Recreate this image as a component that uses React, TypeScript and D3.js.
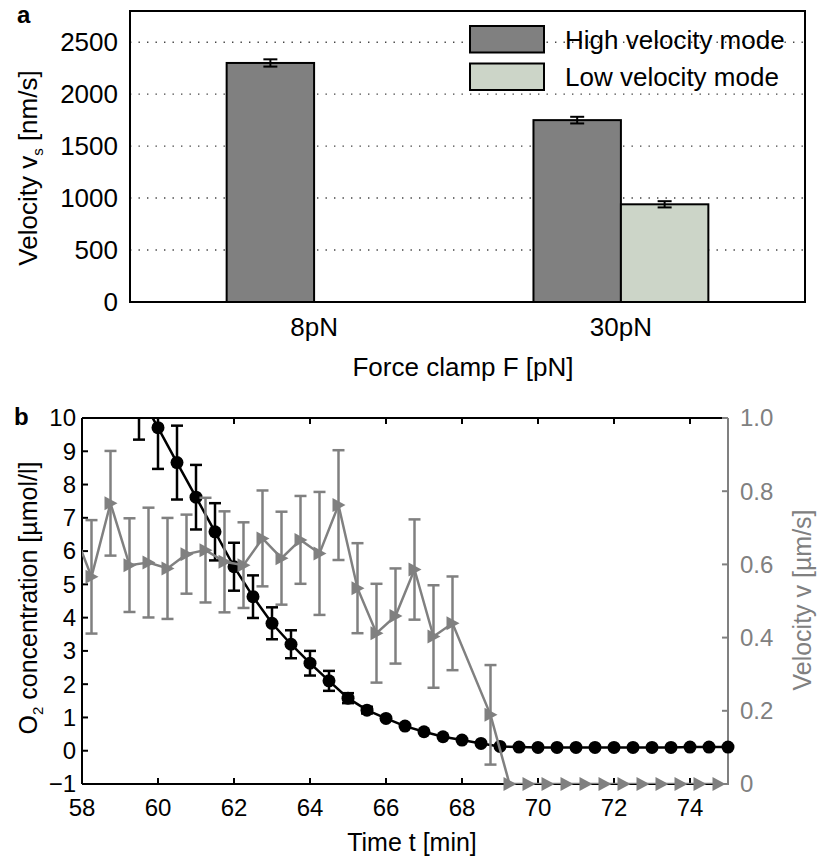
import React from 'react';
import * as d3 from 'd3';

// ---------- Panel a data ----------
const categories = ['8pN', '30pN'];
const highVelocity = [2300, 1750];
const highErr = [35, 32];
const lowVelocity = [0, 940];
const lowErr = [0, 30];
const yTicksA = [0, 500, 1000, 1500, 2000, 2500];
const gridTicksA = [500, 1000, 1500, 2000, 2500];
const legendLabels = ['High velocity mode', 'Low velocity mode'];

// ---------- Panel b data ----------
const o2Time = [59.5, 60, 60.5, 61, 61.5, 62, 62.5, 63, 63.5, 64, 64.5, 65, 65.5, 66, 66.5, 67, 67.5, 68, 68.5, 69, 69.5, 70, 70.5, 71, 71.5, 72, 72.5, 73, 73.5, 74, 74.5, 75];
const o2Value = [10.75, 9.71, 8.66, 7.62, 6.58, 5.53, 4.63, 3.83, 3.2, 2.63, 2.1, 1.58, 1.22, 0.97, 0.74, 0.57, 0.42, 0.32, 0.22, 0.13, 0.11, 0.1, 0.1, 0.1, 0.1, 0.1, 0.1, 0.1, 0.1, 0.11, 0.11, 0.11];
const o2Err = [1.4, 1.24, 1.11, 0.97, 0.86, 0.72, 0.64, 0.48, 0.42, 0.37, 0.3, 0.15, 0.1, 0, 0, 0, 0, 0, 0, 0, 0, 0, 0, 0, 0, 0, 0, 0, 0, 0, 0, 0];

const velTime = [57.75, 58.25, 58.75, 59.25, 59.75, 60.25, 60.75, 61.25, 61.75, 62.25, 62.75, 63.25, 63.75, 64.25, 64.75, 65.25, 65.75, 66.25, 66.75, 67.25, 67.75, 68.75, 69.25, 69.75, 70.25, 70.75, 71.25, 71.75, 72.25, 72.75, 73.25, 73.75, 74.25, 74.75];
const velValue = [0.7, 0.566, 0.767, 0.598, 0.605, 0.589, 0.628, 0.639, 0.607, 0.598, 0.671, 0.617, 0.667, 0.63, 0.762, 0.535, 0.412, 0.459, 0.586, 0.403, 0.439, 0.189, 0, 0, 0, 0, 0, 0, 0, 0, 0, 0, 0, 0];
const velErr = [0.15, 0.155, 0.143, 0.128, 0.15, 0.138, 0.108, 0.143, 0.138, 0.117, 0.131, 0.127, 0.12, 0.168, 0.15, 0.123, 0.135, 0.13, 0.137, 0.14, 0.128, 0.136, 0, 0, 0, 0, 0, 0, 0, 0, 0, 0, 0, 0];

const xTicksB = [58, 60, 62, 64, 66, 68, 70, 72, 74];
const yTicksLeft = [-1, 0, 1, 2, 3, 4, 5, 6, 7, 8, 9, 10];
const yTicksRight = [0, 0.2, 0.4, 0.6, 0.8, 1.0];

const FONT = '"Liberation Sans", Arial, Helvetica, sans-serif';
const GRAY = '#808080';
const LIGHT = '#ccd5c8';

export default function App() {
  // Panel a scales
  const xA = d3.scaleLinear().domain([0.4, 2.6]).range([130, 805]);
  const yA = d3.scaleLinear().domain([0, 2800]).range([302, 11]);
  const barW = xA(1.285) - xA(1);

  // Panel b scales
  const xB = d3.scaleLinear().domain([58, 75]).range([82, 728]);
  const yL = d3.scaleLinear().domain([-1, 10]).range([784, 418]);
  const yR = d3.scaleLinear().domain([0, 1]).range([784, 418]);

  const o2Pts = o2Time.map((t, i) => ({ t, v: o2Value[i], e: o2Err[i] }));
  const velPts = velTime.map((t, i) => ({ t, v: velValue[i], e: velErr[i] }));

  const o2Line = d3.line<any>().x(d => xB(d.t)).y(d => yL(d.v))(o2Pts) || '';
  const velLine = d3.line<any>().x(d => xB(d.t)).y(d => yR(d.v))(velPts) || '';

  const inB = (t: number, y: number, sc: any) => {
    const [d0, d1] = sc.domain();
    return t >= 58 && t <= 75 && y >= d0 && y <= d1;
  };

  const cap = 6;
  const tri = 'M-6,-7 L7,0 L-6,7 Z';

  return (
    <svg width={817} height={859} style={{ position: 'absolute', left: 0, top: 0, background: '#fff' }} fontFamily={FONT}>
      <defs>
        <clipPath id="clipB">
          <rect x={82} y={418} width={728 - 82} height={784 - 418} />
        </clipPath>
      </defs>
      <rect x={0} y={0} width={817} height={859} fill="#fff" />

      {/* ================= Panel a ================= */}
      <text x={17} y={23} fontSize={24} fontWeight="bold">a</text>
      {gridTicksA.map(v => (
        <line key={'g' + v} x1={130} x2={805} y1={yA(v)} y2={yA(v)} stroke="#444" strokeWidth={1.4} strokeDasharray="1.4,7.1" />
      ))}
      {categories.map((c, i) => {
        const cx = xA(i + 1);
        return (
          <g key={c}>
            <rect x={cx - barW} y={yA(highVelocity[i])} width={barW} height={yA(0) - yA(highVelocity[i])} fill={GRAY} stroke="#000" strokeWidth={2} />
            {lowVelocity[i] > 0 && (
              <rect x={cx} y={yA(lowVelocity[i])} width={barW} height={yA(0) - yA(lowVelocity[i])} fill={LIGHT} stroke="#000" strokeWidth={2} />
            )}
            <g stroke="#000" strokeWidth={2}>
              <line x1={cx - barW / 2} x2={cx - barW / 2} y1={yA(highVelocity[i] - highErr[i])} y2={yA(highVelocity[i] + highErr[i])} />
              <line x1={cx - barW / 2 - 7} x2={cx - barW / 2 + 7} y1={yA(highVelocity[i] - highErr[i])} y2={yA(highVelocity[i] - highErr[i])} />
              <line x1={cx - barW / 2 - 7} x2={cx - barW / 2 + 7} y1={yA(highVelocity[i] + highErr[i])} y2={yA(highVelocity[i] + highErr[i])} />
              {lowVelocity[i] > 0 && (
                <>
                  <line x1={cx + barW / 2} x2={cx + barW / 2} y1={yA(lowVelocity[i] - lowErr[i])} y2={yA(lowVelocity[i] + lowErr[i])} />
                  <line x1={cx + barW / 2 - 7} x2={cx + barW / 2 + 7} y1={yA(lowVelocity[i] - lowErr[i])} y2={yA(lowVelocity[i] - lowErr[i])} />
                  <line x1={cx + barW / 2 - 7} x2={cx + barW / 2 + 7} y1={yA(lowVelocity[i] + lowErr[i])} y2={yA(lowVelocity[i] + lowErr[i])} />
                </>
              )}
            </g>
            <text x={cx} y={yA(0) + 25} dy="0.35em" fontSize={26} textAnchor="middle">{c}</text>
          </g>
        );
      })}
      <rect x={130} y={11} width={675} height={291} fill="none" stroke="#000" strokeWidth={2} />
      {yTicksA.map(v => (
        <text key={'ya' + v} x={118} y={yA(v)} dy="0.35em" fontSize={26} textAnchor="end">{v}</text>
      ))}
      {legendLabels.map((l, i) => (
        <g key={l}>
          <rect x={470} y={26 + i * 37.5} width={74} height={26.5} fill={i === 0 ? GRAY : LIGHT} stroke="#000" strokeWidth={2} />
          <text x={565} y={39.5 + i * 37.5} dy="0.35em" fontSize={26}>{l}</text>
        </g>
      ))}
      <text x={463} y={367} dy="0.35em" fontSize={26} textAnchor="middle">Force clamp F [pN]</text>
      <text transform="translate(37,168) rotate(-90)" fontSize={26} textAnchor="middle">
        Velocity v<tspan fontSize={15} dy={6}>s</tspan><tspan dy={-6}> [nm/s]</tspan>
      </text>

      {/* ================= Panel b ================= */}
      <text x={14} y={425} fontSize={24} fontWeight="bold">b</text>

      <line x1={82} x2={728} y1={418} y2={418} stroke="#000" strokeWidth={2} />
      <line x1={82} x2={728} y1={784} y2={784} stroke="#000" strokeWidth={2} />
      <line x1={82} x2={82} y1={418} y2={784} stroke="#000" strokeWidth={2} />
      <line x1={728} x2={728} y1={418} y2={785} stroke={GRAY} strokeWidth={2} />
      {xTicksB.map(t => (
        <g key={'xb' + t}>
          <line x1={xB(t)} x2={xB(t)} y1={784} y2={778} stroke="#000" strokeWidth={2} />
          <line x1={xB(t)} x2={xB(t)} y1={418} y2={424} stroke="#000" strokeWidth={2} />
          <text x={xB(t)} y={808} dy="0.35em" fontSize={24} textAnchor="middle">{t}</text>
        </g>
      ))}
      {yTicksLeft.map(v => (
        <g key={'yl' + v}>
          <line x1={82} x2={88} y1={yL(v)} y2={yL(v)} stroke="#000" strokeWidth={2} />
          <text x={76} y={yL(v)} dy="0.35em" fontSize={24} textAnchor="end">{v < 0 ? '\u2212' + Math.abs(v) : v}</text>
        </g>
      ))}
      {yTicksRight.map(v => (
        <g key={'yr' + v}>
          <line x1={728} x2={722} y1={yR(v)} y2={yR(v)} stroke={GRAY} strokeWidth={2} />
          <text x={740} y={yR(v)} dy="0.35em" fontSize={24} fill={GRAY}>{v === 0 ? '0' : v.toFixed(1)}</text>
        </g>
      ))}
      <text x={412} y={842} dy="0.35em" fontSize={25} textAnchor="middle">Time t [min]</text>
      <text transform="translate(37,598) rotate(-90)" fontSize={25} textAnchor="middle">
        O<tspan fontSize={15} dy={6}>2</tspan><tspan dy={-6}> concentration [µmol/l]</tspan>
      </text>
      <text transform="translate(811,600) rotate(-90)" fontSize={25} textAnchor="middle" fill={GRAY}>Velocity v [µm/s]</text>

      {/* O2 series (black) */}
      <g clipPath="url(#clipB)">
        <path d={o2Line} fill="none" stroke="#000" strokeWidth={2.5} />
        {o2Pts.filter(p => p.e > 0).map((p, i) => (
          <g key={'oe' + i} stroke="#000" strokeWidth={2.5}>
            <line x1={xB(p.t)} x2={xB(p.t)} y1={yL(p.v - p.e)} y2={yL(p.v + p.e)} />
            <line x1={xB(p.t) - cap} x2={xB(p.t) + cap} y1={yL(p.v - p.e)} y2={yL(p.v - p.e)} />
            <line x1={xB(p.t) - cap} x2={xB(p.t) + cap} y1={yL(p.v + p.e)} y2={yL(p.v + p.e)} />
          </g>
        ))}
      </g>
      {o2Pts.filter(p => inB(p.t, p.v, yL)).map((p, i) => (
        <circle key={'oc' + i} cx={xB(p.t)} cy={yL(p.v)} r={6.5} fill="#000" />
      ))}

      {/* Velocity series (gray) */}
      <g clipPath="url(#clipB)">
        <path d={velLine} fill="none" stroke={GRAY} strokeWidth={2.5} />
        {velPts.filter(p => p.e > 0).map((p, i) => (
          <g key={'ve' + i} stroke={GRAY} strokeWidth={2.5}>
            <line x1={xB(p.t)} x2={xB(p.t)} y1={yR(p.v - p.e)} y2={yR(p.v + p.e)} />
            <line x1={xB(p.t) - cap} x2={xB(p.t) + cap} y1={yR(p.v - p.e)} y2={yR(p.v - p.e)} />
            <line x1={xB(p.t) - cap} x2={xB(p.t) + cap} y1={yR(p.v + p.e)} y2={yR(p.v + p.e)} />
          </g>
        ))}
      </g>
      {velPts.filter(p => inB(p.t, p.v, yR)).map((p, i) => (
        <path key={'vt' + i} d={tri} transform={`translate(${xB(p.t)},${yR(p.v)})`} fill={GRAY} />
      ))}
    </svg>
  );
}
